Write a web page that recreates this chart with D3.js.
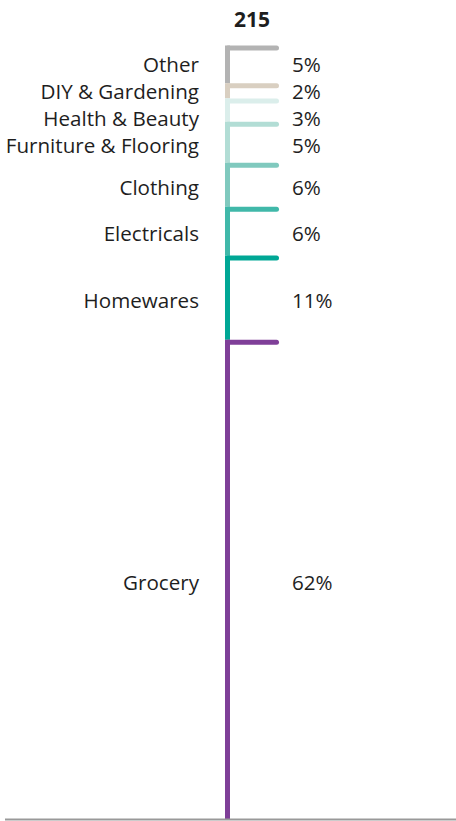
<!DOCTYPE html>
<html><head><meta charset="utf-8">
<script src="https://cdn.jsdelivr.net/npm/d3@7"></script>
<style>body{margin:0;background:#fff}svg{display:block}text{font-family:"Open Sans","Noto Sans",sans-serif;fill:#1e1e1e}</style>
</head><body>
<script>
const categories = ["Other","DIY & Gardening","Health & Beauty","Furniture & Flooring","Clothing","Electricals","Homewares","Grocery"];
const values = [10.5, 4.2, 6.5, 11.4, 12.2, 13.6, 23.4, 133.2];
const colors = ["#b3b3b3","#d9cfc1","#dbeeeb","#b2ddd5","#80c9be","#40b8a9","#00a795","#7f3f98"];
const totalLabel = "215";

const W = 456, H = 821;
const svg = d3.select("body").append("svg").attr("width", W).attr("height", H);
const total = d3.sum(values);
const y = d3.scaleLinear().domain([0, total]).range([45.5, 819]);
const barX = 225, barW = 5, capEnd = 279, capW = 5;

let cum = 0;
const segs = values.map((v, i) => { const s = {cat: categories[i], v, c: colors[i], y0: cum, y1: cum + v}; cum += v; return s; });

svg.selectAll("rect.seg").data(segs).join("rect").attr("class","seg")
  .attr("x", barX).attr("width", barW)
  .attr("y", d => y(d.y0)).attr("height", d => y(d.y1) - y(d.y0))
  .attr("fill", d => d.c);

svg.selectAll("line.cap").data(segs).join("line").attr("class","cap")
  .attr("x1", barX + barW/2 + 0.5).attr("x2", capEnd - capW/2)
  .attr("y1", d => y(d.y0) + capW/2).attr("y2", d => y(d.y0) + capW/2)
  .attr("stroke", d => d.c).attr("stroke-width", capW).attr("stroke-linecap","round");

// label placement: segment centre, then symmetric relaxation of overlaps
const gap = 27;
segs.forEach(d => { d.ly = (y(d.y0) + y(d.y1)) / 2 + 3.5; });
for (let it = 0; it < 300; it++) {
  for (let i = 1; i < segs.length; i++) {
    const diff = segs[i].ly - segs[i-1].ly;
    if (diff < gap) { const s = (gap - diff) / 2; segs[i-1].ly -= s; segs[i].ly += s; }
  }
}

const fs = 20.6;
svg.selectAll("text.cat").data(segs).join("text").attr("class","cat")
  .attr("x", 199).attr("y", d => d.ly).attr("dy","0.33em")
  .attr("text-anchor","end").attr("font-size", fs).text(d => d.cat);

svg.selectAll("text.pct").data(segs).join("text").attr("class","pct")
  .attr("x", 292).attr("y", d => d.ly).attr("dy","0.33em")
  .attr("font-size", fs).text(d => Math.round(d.v / total * 100) + "%");

svg.append("text").attr("x", (barX + capEnd)/2).attr("y", 20).attr("dy","0.35em")
  .attr("text-anchor","middle").attr("font-size", 21).attr("font-weight","bold").text(totalLabel);

svg.append("line").attr("x1", 5).attr("x2", W).attr("y1", 819.5).attr("y2", 819.5)
  .attr("stroke", "#999").attr("stroke-width", 2);
</script>
</body></html>
